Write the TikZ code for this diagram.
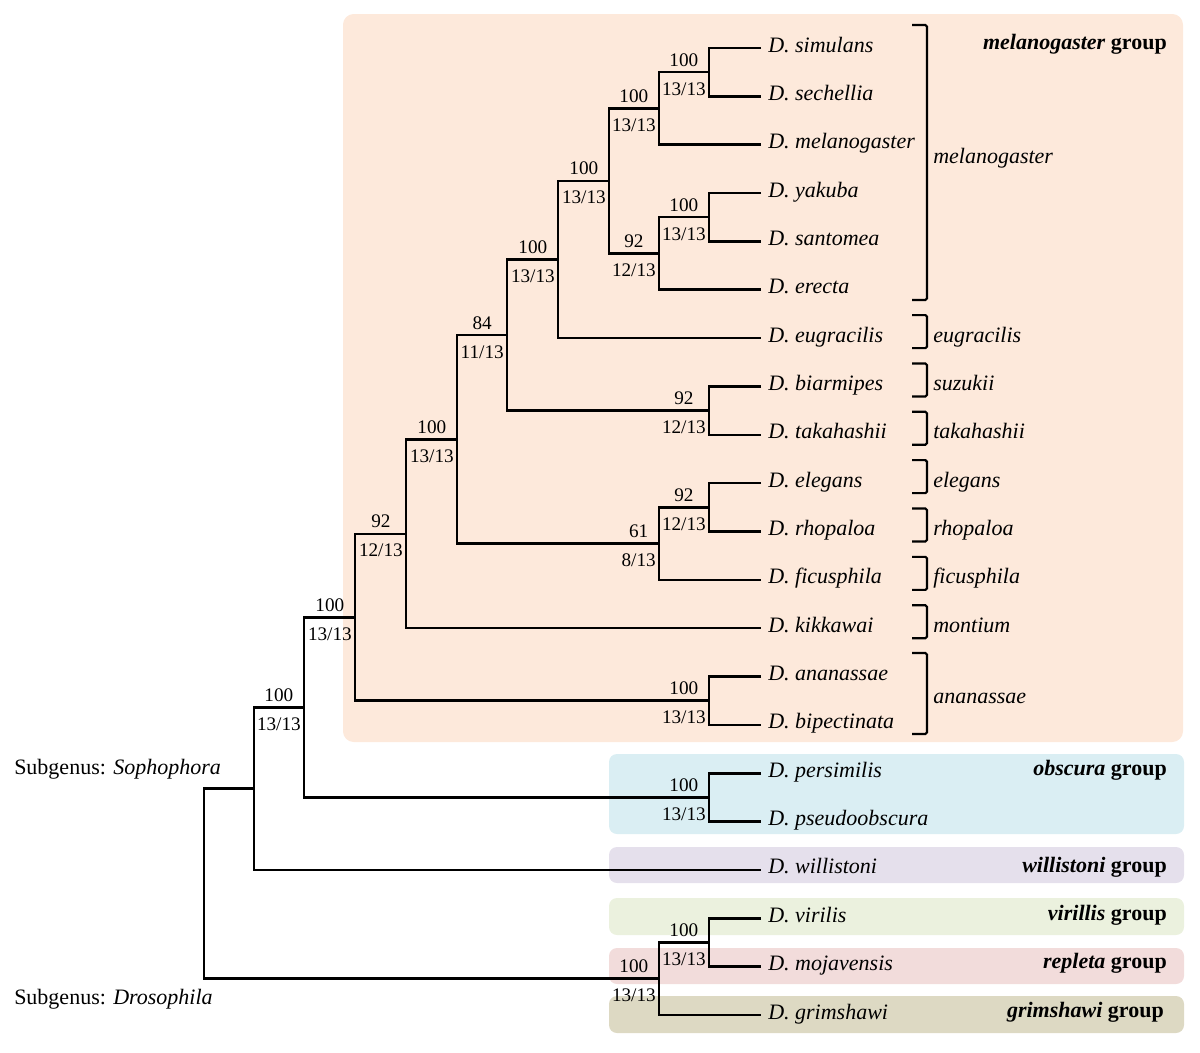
\documentclass[tikz,border=0pt]{standalone}
\usepackage{fontspec}
\setmainfont{Liberation Serif}
\definecolor{melC}{HTML}{FDE9DB}
\definecolor{obsC}{HTML}{DAEEF3}
\definecolor{wilC}{HTML}{E5E0EC}
\definecolor{virC}{HTML}{EBF1DE}
\definecolor{repC}{HTML}{F2DCDB}
\definecolor{griC}{HTML}{DDD9C3}
\newcommand\suplab[4]{%
  \node[suplbl, anchor=base east] (#2b) at ([shift={(-3,23)}]#1) {#4};
  \node[suplbl, anchor=base] (#2a) at ([shift={(0,-29)}]#2b.base) {#3};
}
\begin{document}
\begin{tikzpicture}[x=0.75pt,y=-0.75pt,
  tree/.style={line width=1.9pt, line join=miter},
  leaf/.style={font=\fontsize{16.5}{18}\selectfont\itshape, inner sep=0pt, anchor=base west},
  sublbl/.style={font=\fontsize{16.5}{18}\selectfont\itshape, inner sep=0pt, anchor=base west},
  suplbl/.style={font=\fontsize{14.4}{16}\selectfont, inner sep=0pt},
  grp/.style={font=\fontsize{16.5}{18}\selectfont\bfseries, inner sep=0pt, anchor=base east},
  subg/.style={font=\fontsize{16.5}{18}\selectfont, inner sep=0pt, anchor=base west},
  brk/.style={line width=1.6pt, rounded corners=1.2pt},
  bigbox/.style={rounded corners=8pt},
  smallbox/.style={rounded corners=6pt}]
\useasboundingbox (0,0) rectangle (1200,1053);
% background group boxes
\fill[melC, bigbox] (343,14) rectangle (1183,742);
\fill[obsC, smallbox] (609,754) rectangle (1184,834);
\fill[wilC, smallbox] (609,847) rectangle (1184,883);
\fill[virC, smallbox] (609,898) rectangle (1184,935);
\fill[repC, smallbox] (609,948) rectangle (1184,984);
\fill[griC, smallbox] (609,996) rectangle (1184,1033);
% leaves
\foreach \n/\t [count=\i from 0] in {Sim/D. simulans, Sec/D. sechellia, Mel/D. melanogaster, Yak/D. yakuba, San/D. santomea, Ere/D. erecta, Eug/D. eugracilis, Bia/D. biarmipes, Tak/D. takahashii, Ele/D. elegans, Rho/D. rhopaloa, Fic/D. ficusphila, Kik/D. kikkawai, Ana/D. ananassae, Bip/D. bipectinata, Per/D. persimilis, Pse/D. pseudoobscura, Wil/D. willistoni, Vir/D. virilis, Moj/D. mojavensis, Gri/D. grimshawi}{
  \pgfmathsetmacro\yy{48+48.35*\i}
  \coordinate (t\n) at (761,\yy);
  \node[leaf] (l\n) at (768,\yy+4) {\t};
}
% internal nodes
\coordinate (nSS) at (709,72.18);
\coordinate (nSSM) at (659,108.44);
\coordinate (nYS) at (709,217.23);
\coordinate (nYSE) at (659,253.49);
\coordinate (nMS) at (609,180.96);
\coordinate (nEug) at (558,259.53);
\coordinate (nBT) at (709,410.63);
\coordinate (n84) at (507,335.08);
\coordinate (nER) at (709,507.33);
\coordinate (n61) at (659,543.59);
\coordinate (nC) at (457,439.33);
\coordinate (n92) at (406,533.77);
\coordinate (nAB) at (709,700.73);
\coordinate (nMel) at (355,617.25);
\coordinate (nPP) at (709,797.43);
\coordinate (nS2) at (304,707.34);
\coordinate (nSoph) at (254,788.64);
\coordinate (nVM) at (709,942.48);
\coordinate (nDros) at (659,978.74);
\coordinate (root) at (204,883.69);
% branches
\draw[tree] (tSim) -| (nSS) |- (tSec);
\draw[tree] (nSS) -| (nSSM) |- (tMel);
\draw[tree] (tYak) -| (nYS) |- (tSan);
\draw[tree] (nYS) -| (nYSE) |- (tEre);
\draw[tree] (nSSM) -| (nMS) |- (nYSE);
\draw[tree] (nMS) -| (nEug) |- (tEug);
\draw[tree] (tBia) -| (nBT) |- (tTak);
\draw[tree] (nEug) -| (n84) |- (nBT);
\draw[tree] (tEle) -| (nER) |- (tRho);
\draw[tree] (nER) -| (n61) |- (tFic);
\draw[tree] (n84) -| (nC) |- (n61);
\draw[tree] (nC) -| (n92) |- (tKik);
\draw[tree] (tAna) -| (nAB) |- (tBip);
\draw[tree] (n92) -| (nMel) |- (nAB);
\draw[tree] (tPer) -| (nPP) |- (tPse);
\draw[tree] (nMel) -| (nS2) |- (nPP);
\draw[tree] (nS2) -| (nSoph) |- (tWil);
\draw[tree] (tVir) -| (nVM) |- (tMoj);
\draw[tree] (nVM) -| (nDros) |- (tGri);
\draw[tree] (nSoph) -| (root) |- (nDros);
% support labels
\suplab{nSS}{sA}{100}{13/13}
\suplab{nSSM}{sB}{100}{13/13}
\suplab{nYS}{sC}{100}{13/13}
\suplab{nYSE}{sD}{92}{12/13}
\suplab{nMS}{sE}{100}{13/13}
\suplab{nEug}{sF}{100}{13/13}
\suplab{nBT}{sG}{92}{12/13}
\suplab{n84}{sH}{84}{11/13}
\suplab{nER}{sI}{92}{12/13}
\suplab{n61}{sJ}{61}{8/13}
\suplab{nC}{sK}{100}{13/13}
\suplab{n92}{sL}{92}{12/13}
\suplab{nAB}{sM}{100}{13/13}
\suplab{nMel}{sN}{100}{13/13}
\suplab{nPP}{sO}{100}{13/13}
\suplab{nS2}{sP}{100}{13/13}
\suplab{nVM}{sQ}{100}{13/13}
\suplab{nDros}{sR}{100}{13/13}
% subgroup brackets
\draw[brk] (912,25) -- (927,25) -- (927,300) -- (912,300);
\node[sublbl] (bMel) at (933,163) {melanogaster};
\foreach \i/\t in {6/eugracilis, 7/suzukii, 8/takahashii, 9/elegans, 10/rhopaloa, 11/ficusphila, 12/montium}{
  \pgfmathsetmacro\yy{48+48.35*\i}
  \draw[brk] (912,\yy-23) -- (927,\yy-23) -- (927,\yy+10) -- (912,\yy+10);
  \node[sublbl] (b\t) at (933,\yy+4) {\t};
}
\draw[brk] (912,653) -- (927,653) -- (927,734) -- (912,734);
\node[sublbl] (bAna) at (933,703) {ananassae};
% group labels
\node[grp] (gMel) at (1167,50) {\textit{melanogaster} group};
\node[grp] (gObs) at (1167,775) {\textit{obscura} group};
\node[grp] (gWil) at (1167,872) {\textit{willistoni} group};
\node[grp] (gVir) at (1167,920) {\textit{virillis} group};
\node[grp] (gRep) at (1167,968) {\textit{repleta} group};
\node[grp] (gGri) at (1164,1017) {\textit{grimshawi} group};
% subgenus labels
\node[subg] (sgS) at (14,774) {Subgenus: \textit{Sophophora}};
\node[subg] (sgD) at (14,1004) {Subgenus: \textit{Drosophila}};
\end{tikzpicture}
\end{document}
